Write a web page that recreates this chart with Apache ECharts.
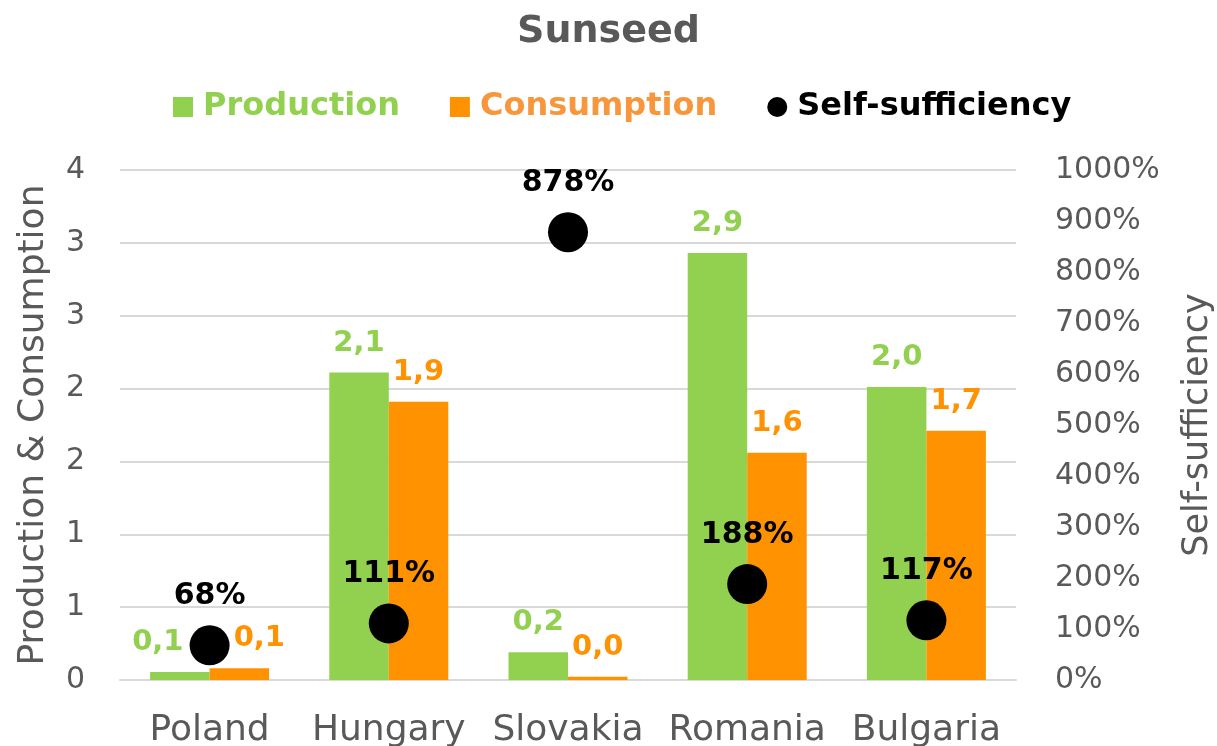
<!DOCTYPE html>
<html>
<head>
<meta charset="utf-8">
<title>Sunseed</title>
<script src="https://cdn.jsdelivr.net/npm/echarts@6/dist/echarts.min.js"></script>
<style>
  html, body { margin: 0; padding: 0; background: #fff; }
  #chart { width: 1217px; height: 746px; }
</style>
</head>
<body>
<div id="chart"></div>
<script>
const countries = ['Poland', 'Hungary', 'Slovakia', 'Romania', 'Bulgaria']
const production = [0.055, 2.11, 0.19, 2.93, 2.01]
const consumption = [0.08, 1.91, 0.022, 1.56, 1.71]
const selfSufficiency = [68, 111, 878, 188, 117]

const GREEN = '#92D050'
const ORANGE = '#FF9200'
const GRAY = '#595959'
const FONT = 'DejaVu Sans'

const fmtComma = v => v.toFixed(1).replace('.', ',')

// Poland labels get pushed sideways so they clear the dot
const prodData = production.map((v, i) => i === 0
  ? { value: v, label: { offset: [-22, 0] } }
  : v)
const consData = consumption.map((v, i) => i === 0
  ? { value: v, label: { offset: [20, 0] } }
  : v)

const chart = echarts.init(document.getElementById('chart'))
chart.setOption({
  animation: false,
  textStyle: { fontFamily: FONT },
  title: {
    text: 'Sunseed',
    left: 'center',
    top: 8,
    textStyle: { fontSize: 38, fontWeight: 'bold', color: GRAY, fontFamily: FONT }
  },
  legend: {
    top: 86,
    left: 168,
    itemWidth: 20,
    itemHeight: 20,
    itemGap: 50,
    textStyle: { fontSize: 32, fontWeight: 'bold', fontFamily: FONT, padding: [0, 0, 0, 5] },
    data: [
      { name: 'Production', icon: 'rect', textStyle: { color: GREEN } },
      { name: 'Consumption', icon: 'rect', textStyle: { color: '#F7963B' } },
      { name: 'Self-sufficiency', icon: 'circle', textStyle: { color: '#000' } }
    ]
  },
  grid: { left: 120, right: 201, top: 170, bottom: 66, outerBoundsMode: 'none' },
  xAxis: {
    type: 'category',
    data: countries,
    axisTick: { show: false },
    axisLine: { lineStyle: { color: '#D9D9D9', width: 2 } },
    axisLabel: { color: GRAY, fontSize: 36, margin: 33, interval: 0, hideOverlap: false, fontFamily: FONT }
  },
  yAxis: [{
    type: 'value',
    min: 0,
    max: 3.5,
    interval: 0.5,
    name: 'Production & Consumption',
    nameLocation: 'middle',
    nameGap: 68,
    nameTextStyle: { color: GRAY, fontSize: 36, fontFamily: FONT },
    axisLine: { show: false },
    axisTick: { show: false },
    splitLine: { lineStyle: { color: '#D9D9D9', width: 2 } },
    axisLabel: {
      color: GRAY,
      fontSize: 30,
      margin: 35,
      formatter: v => String(Math.round(v))
    }
  }, {
    type: 'value',
    min: 0,
    max: 1000,
    interval: 100,
    name: 'Self-sufficiency',
    nameLocation: 'middle',
    nameGap: 164,
    nameTextStyle: { color: GRAY, fontSize: 35, fontFamily: FONT },
    axisLine: { show: false },
    axisTick: { show: false },
    splitLine: { show: false },
    axisLabel: {
      color: GRAY,
      fontSize: 30,
      margin: 39,
      formatter: v => v + '%'
    }
  }],
  series: [{
    name: 'Production',
    type: 'bar',
    data: prodData,
    itemStyle: { color: GREEN },
    barGap: '0%',
    barCategoryGap: '33.6%',
    label: {
      show: true,
      position: 'top',
      distance: 15,
      color: GREEN,
      fontSize: 29,
      fontWeight: 'bold',
      formatter: p => fmtComma(p.value)
    }
  }, {
    name: 'Consumption',
    type: 'bar',
    data: consData,
    itemStyle: { color: ORANGE },
    label: {
      show: true,
      position: 'top',
      distance: 15,
      color: ORANGE,
      fontSize: 29,
      fontWeight: 'bold',
      formatter: p => fmtComma(p.value)
    }
  }, {
    name: 'Self-sufficiency',
    type: 'scatter',
    yAxisIndex: 1,
    data: selfSufficiency,
    symbol: 'circle',
    symbolSize: 40,
    itemStyle: { color: '#000', opacity: 1 },
    z: 5,
    label: {
      show: true,
      position: 'top',
      distance: 14,
      color: '#000',
      fontSize: 30,
      fontWeight: 'bold',
      formatter: p => p.value + '%'
    }
  }]
})
</script>
</body>
</html>
